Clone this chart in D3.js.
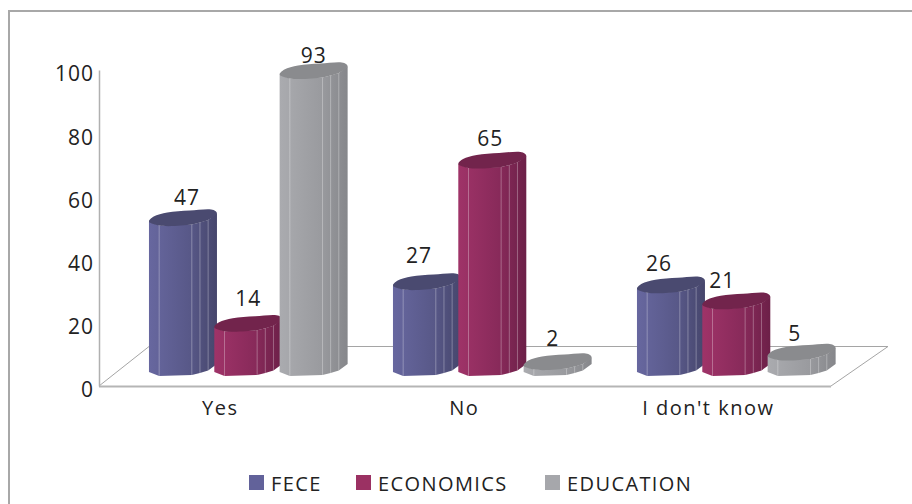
<!DOCTYPE html>
<html><head><meta charset="utf-8">
<script src="https://cdn.jsdelivr.net/npm/d3@7"></script>
<style>html,body{margin:0;padding:0;background:#fff}svg{display:block}text{font-family:"Open Sans","Noto Sans",sans-serif;fill:#222}</style>
</head><body><svg id="c" width="912" height="504"></svg>
<script>
const categories = ["Yes", "No", "I don't know"];
const seriesNames = ["FECE", "ECONOMICS", "EDUCATION"];
const fece = [47, 27, 26];
const economics = [14, 65, 21];
const education = [93, 2, 5];
const yTicks = [0, 20, 40, 60, 80, 100];
const seriesValues = [fece, economics, education];
const colors = [
  {l:"#67679f", r:"#46466c", top:"#4a4a70", leg:"#62629a"},
  {l:"#9f3368", r:"#6c2048", top:"#72244c", leg:"#9b3163"},
  {l:"#aaabaf", r:"#86878b", top:"#8a8b8e", leg:"#a6a7ab"}
];

const svg = d3.select("#c");
const y = d3.scaleLinear().domain([0, 100]).range([386, 70]);
const barY = d3.scaleLinear().domain([0, 100]).range([369, 49]);
const x0 = d3.scaleBand().domain(categories).range([126.3, 858.3]);
const groupW = 196;
const x1 = d3.scaleBand().domain(seriesNames).range([0, groupW]);
const barW = 68;
const gx = c => x0(c) + (x0.bandwidth() - groupW) / 2;
const barLeft = (c, s) => gx(c) + x1(s) + (x1.bandwidth() - barW) / 2;

// per-label nudges (x from bar left, y above bar top), by series then category
const labelDx = [[38, 26, 22], [34, 32, 20], [34, 29, 27]];
const labelDy = [[14, 20, 15], [18, 15, 14], [8, 17, 12]];

// frame
svg.append("path").attr("d", "M9,504V11H912").attr("fill","none").attr("stroke","#a8a8a8").attr("stroke-width",2);

// floor
const floor = svg.append("g").attr("fill","none");
floor.append("path").attr("d", `M99,${y(0)}L149,346.5H888L831,${y(0)}`).attr("stroke","#a5a5a5").attr("stroke-width",1);
floor.append("line").attr("x1",99).attr("x2",831).attr("y1",y(0)+.5).attr("y2",y(0)+.5).attr("stroke","#b5b5b5").attr("stroke-width",2);
// y axis
const axis = svg.append("g").attr("transform","translate(99,0)").call(d3.axisLeft(y).tickValues(yTicks).tickSize(0).tickPadding(5));
axis.select(".domain").attr("stroke","#b0b0b0").attr("stroke-width",1.5);
axis.selectAll("text").attr("font-size",21).style("font-family",'"Open Sans","Noto Sans",sans-serif').style("letter-spacing","1px").attr("fill","#222").attr("dy","0.52em");

// gradients
const defs = svg.append("defs");
colors.forEach((c,i)=>{
  const g = defs.append("linearGradient").attr("id","g"+i);
  g.append("stop").attr("offset","0%").attr("stop-color",c.l);
  g.append("stop").attr("offset","60%").attr("stop-color",d3.interpolateRgb(c.l,c.r)(.45));
  g.append("stop").attr("offset","100%").attr("stop-color",c.r);
});

// faceted cylinder profile: [fraction of width, front-edge offset]
const front = [[0,3],[.15,7],[.63,6],[.75,4],[.87,1.5],[1,-5]];
const back = [[1,-5],[.95,-8.5],[.6,-8],[.27,-6],[.07,-2],[0,3]];
const line = d3.line().curve(d3.curveLinear);

categories.forEach((cat)=>{
  const ci = categories.indexOf(cat);
  seriesNames.forEach((s,si)=>{
    const v = seriesValues[si][ci];
    const left = barLeft(cat, s);
    const yTop = barY(v), yBot = barY(0);
    const g = svg.append("g");
    const pts = [...front.map(([u,o])=>[left+u*barW,yBot+o]), ...[...front].reverse().map(([u,o])=>[left+u*barW,yTop+o])];
    g.append("path").attr("d",line(pts)+"Z").attr("fill",`url(#g${si})`);
    front.slice(1,-1).forEach(([u,o])=>{
      g.append("line").attr("x1",left+u*barW).attr("x2",left+u*barW)
        .attr("y1",yTop+o).attr("y2",yBot+o).attr("stroke","#fff").attr("stroke-opacity",.3).attr("stroke-width",1);
    });
    const ring = [...front, ...back.slice(1,-1)].map(([u,o])=>[left+u*barW,yTop+o]);
    g.append("path").attr("d",d3.line().curve(d3.curveCatmullRomClosed.alpha(.5))(ring)).attr("fill",colors[si].top);
  });
});
// value labels drawn on top
categories.forEach((cat,ci)=>{
  seriesNames.forEach((s,si)=>{
    const v = seriesValues[si][ci];
    svg.append("text").attr("x",barLeft(cat,s)+labelDx[si][ci]).attr("y",barY(v)-labelDy[si][ci])
      .attr("text-anchor","middle").attr("font-size",21).style("letter-spacing","1px").text(v);
  });
});
// category labels
categories.forEach(cat=>{
  svg.append("text").attr("x",x0(cat)+x0.bandwidth()/2-28).attr("y",415).attr("text-anchor","middle")
    .attr("font-size",20).style("letter-spacing","1.5px").text(cat);
});
// legend
const legendX = [249, 356, 545];
seriesNames.forEach((s,i)=>{
  svg.append("rect").attr("x",legendX[i]).attr("y",475).attr("width",15).attr("height",15).attr("fill",colors[i].leg);
  svg.append("text").attr("x",legendX[i]+22).attr("y",490.5).attr("font-size",20).style("letter-spacing","1.4px").text(s);
});
</script></body></html>
